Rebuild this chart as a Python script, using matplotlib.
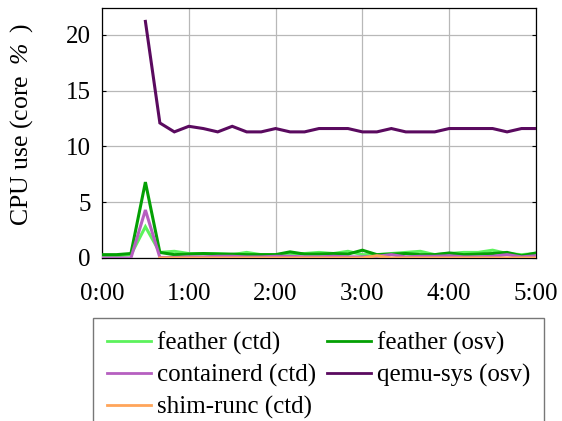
import numpy as np
import matplotlib
matplotlib.use("Agg")
import matplotlib.pyplot as plt
from matplotlib.ticker import FuncFormatter, MultipleLocator

plt.rcParams["font.family"] = ["Liberation Serif", "DejaVu Serif"]
plt.rcParams["mathtext.fontset"] = "custom"
# math is only used for the slanted percent sign in the axis label
plt.rcParams["mathtext.rm"] = "Liberation Serif:italic"
plt.rcParams["mathtext.it"] = "Liberation Serif:italic"

# Sample times in seconds (one sample every 10 s)
time_s = np.arange(0, 301, 10)

nan = np.nan
feather_ctd = [0.2, 0.2, 0.3, 2.8, 0.5, 0.6, 0.4, 0.4, 0.4, 0.3, 0.5,
               0.3, 0.3, 0.4, 0.4, 0.5, 0.4, 0.6, 0.3, 0.3, 0.4,
               0.5, 0.6, 0.3, 0.4, 0.5, 0.5, 0.7, 0.4, 0.3, 0.4]
feather_osv = [0.3, 0.3, 0.4, 6.8, 0.5, 0.3, 0.35, 0.4, 0.35, 0.35, 0.3,
               0.3, 0.3, 0.55, 0.35, 0.35, 0.4, 0.35, 0.7, 0.3, 0.35,
               0.4, 0.3, 0.3, 0.45, 0.3, 0.35, 0.4, 0.5, 0.2, 0.45]
containerd_ctd = [0.0, 0.0, 0.0, 4.3, 0.05, 0.05, 0.1, 0.1, 0.15, 0.15, 0.1,
                  0.1, 0.15, 0.15, 0.1, 0.1, 0.15, 0.1, 0.1, 0.15, 0.3,
                  0.1, 0.15, 0.15, 0.2, 0.1, 0.1, 0.15, 0.3, 0.1, 0.2]
qemu_sys_osv = [nan, nan, nan, 21.2, 12.1, 11.3, 11.8, 11.6, 11.3, 11.8, 11.3,
                11.3, 11.6, 11.3, 11.3, 11.6, 11.6, 11.6, 11.3, 11.3, 11.6,
                11.3, 11.3, 11.3, 11.6, 11.6, 11.6, 11.6, 11.3, 11.6, 11.6]
shim_runc_ctd = [nan, nan, nan, nan, 0.0, 0.0, 0.0, 0.0, 0.0, 0.0, 0.0,
                 0.0, 0.0, 0.0, 0.0, 0.0, 0.0, 0.0, 0.0, 0.2, 0.0,
                 0.0, 0.0, 0.0, 0.0, 0.0, 0.0, 0.0, 0.0, 0.0, 0.0]

series = [
    ("feather (ctd)", feather_ctd, "#5cf25c"),
    ("feather (osv)", feather_osv, "#04a004"),
    ("containerd (ctd)", containerd_ctd, "#b65fc0"),
    ("qemu-sys (osv)", qemu_sys_osv, "#5a0a5f"),
    ("shim-runc (ctd)", shim_runc_ctd, "#ffa55a"),
]

fig = plt.figure(figsize=(5.62, 4.21), dpi=100)
ax = fig.add_axes([102 / 562, 1 - 258 / 421, 434 / 562, 250 / 421])

handles = {}
for label, values, color in series:
    (ln,) = ax.plot(time_s, values, color=color, lw=2.2, label=label,
                    solid_joinstyle="miter", zorder=3)
    handles[label] = ln

ax.set_xlim(0, 300)
ax.set_ylim(0, 22.4)
ax.xaxis.set_major_locator(MultipleLocator(60))
ax.yaxis.set_major_locator(MultipleLocator(5))
ax.xaxis.set_major_formatter(
    FuncFormatter(lambda v, _: f"{int(v // 60)}:{int(v % 60):02d}"))

ax.grid(True, color="#b8b8b8", lw=0.9)
ax.set_axisbelow(True)
ax.tick_params(axis="y", direction="in", length=3, width=0.8,
               left=True, right=True, labelsize=18, pad=8)
ax.tick_params(axis="x", direction="in", length=0, labelsize=18, pad=18)
for sp in ax.spines.values():
    sp.set_linewidth(0.9)
    sp.set_color("black")

ax.set_ylabel(r"CPU use (core $\;\%\;\;$)", fontsize=18.5)
ax.yaxis.set_label_coords(-0.154, 0.535)

order = ["feather (ctd)", "containerd (ctd)", "shim-runc (ctd)",
         "feather (osv)", "qemu-sys (osv)"]
leg = fig.legend([handles[k] for k in order], order, loc="upper left",
                 bbox_to_anchor=(93 / 562, 1 - 318 / 421), borderaxespad=0,
                 ncol=2, fontsize=18, frameon=True, fancybox=False,
                 edgecolor="#555555", handlelength=1.75, handletextpad=0.25,
                 columnspacing=0.45, labelspacing=0.36, borderpad=0.55)
leg.get_frame().set_linewidth(1.0)
for ln in leg.get_lines():
    ln.set_linewidth(2.0)

fig.savefig("out.png", dpi=100)
